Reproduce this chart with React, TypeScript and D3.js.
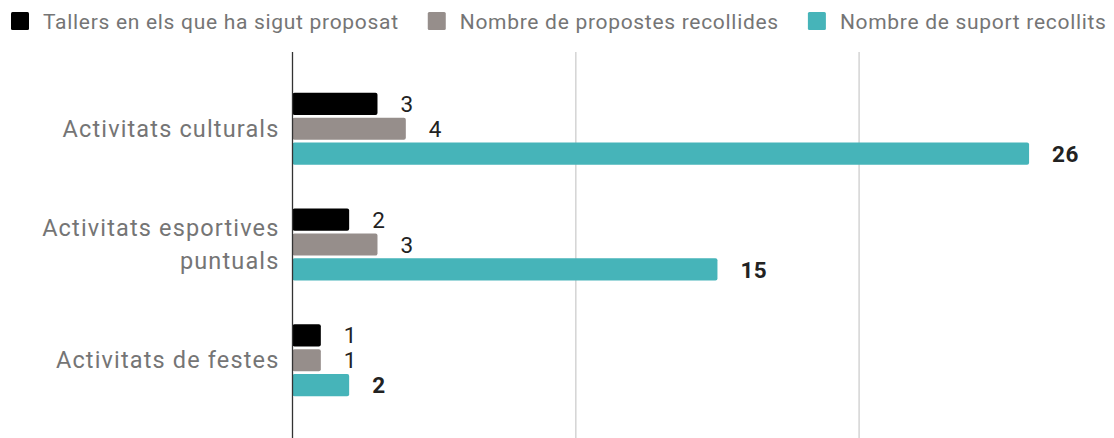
import React, { useEffect, useRef } from "react";
import * as d3 from "d3";

const categories = ["Activitats culturals", "Activitats esportives puntuals", "Activitats de festes"];
const categoryLines = [["Activitats culturals"], ["Activitats esportives", "puntuals"], ["Activitats de festes"]];
const seriesNames = ["Tallers en els que ha sigut proposat", "Nombre de propostes recollides", "Nombre de suport recollits"];
const seriesColors = ["#000000", "#968e8b", "#46b4b9"];
const tallers = [3, 2, 1];
const propostes = [4, 3, 1];
const suport = [26, 15, 2];
const xTicks = [10, 20, 30];

const W = 1114;
const H = 438;
const FONT = "Roboto, 'Noto Sans', sans-serif";

export default function App() {
  const ref = useRef<SVGSVGElement>(null);

  useEffect(() => {
    const svg = d3.select(ref.current);
    svg.selectAll("*").remove();

    const series = [tallers, propostes, suport];
    const left = 292.5;
    const top = 52;
    const bottom = 437;

    const x = d3.scaleLinear().domain([0, 30]).range([left, left + 30 * 28.33]);
    const y0 = d3.scaleBand<string>().domain(categories).range([top, bottom]).paddingInner(0.378).paddingOuter(0.352);
    const y1 = d3.scaleBand<number>().domain([0, 1, 2]).range([0, y0.bandwidth()]).paddingInner(0.11);

    // gridlines
    svg.append("g").selectAll("line").data(xTicks).join("line")
      .attr("x1", (d) => x(d)).attr("x2", (d) => x(d))
      .attr("y1", top).attr("y2", H)
      .attr("stroke", "#d4d4d4").attr("stroke-width", 1.5);

    // bars
    categories.forEach((c, ci) => {
      const g = svg.append("g").attr("transform", `translate(0,${y0(c)})`);
      series.forEach((vals, si) => {
        const v = vals[ci];
        g.append("rect")
          .attr("x", x(0))
          .attr("y", y1(si)!)
          .attr("width", x(v) - x(0))
          .attr("height", y1.bandwidth())
          .attr("rx", 2)
          .attr("fill", seriesColors[si]);
        g.append("text")
          .attr("x", x(v) + 23)
          .attr("y", y1(si)! + y1.bandwidth() / 2)
          .attr("dy", "0.36em")
          .attr("font-family", FONT)
          .attr("font-size", 22.5)
          .attr("letter-spacing", 0.5)
          .attr("font-weight", si === 2 ? 700 : 400)
          .attr("fill", "#222222")
          .text(v);
      });
    });

    // axis line
    svg.append("line")
      .attr("x1", x(0)).attr("x2", x(0))
      .attr("y1", top).attr("y2", H)
      .attr("stroke", "#333333").attr("stroke-width", 1.3);

    // category labels
    categories.forEach((c, ci) => {
      const lines = categoryLines[ci];
      const lh = 33;
      const cy = y0(c)! + y0.bandwidth() / 2;
      const t = svg.append("text")
        .attr("text-anchor", "end")
        .attr("font-family", FONT)
        .attr("font-size", 23.5)
        .attr("letter-spacing", 1.15)
        .attr("fill", "#757575");
      lines.forEach((ln, li) => {
        t.append("tspan")
          .attr("x", x(0) - 13)
          .attr("y", cy + (li - (lines.length - 1) / 2) * lh)
          .attr("dy", "0.35em")
          .text(ln);
      });
    });

    // legend
    let lx = 11;
    seriesNames.forEach((name, i) => {
      svg.append("rect")
        .attr("x", lx).attr("y", 12)
        .attr("width", 18).attr("height", 18)
        .attr("rx", 1.5)
        .attr("fill", seriesColors[i]);
      const t = svg.append("text")
        .attr("x", lx + 32).attr("y", 28.5)
        .attr("font-family", FONT)
        .attr("font-size", 21)
        .attr("letter-spacing", 0.7)
        .attr("fill", "#757575")
        .text(name);
      const w = (t.node() as SVGTextElement).getComputedTextLength();
      lx = lx + 32 + w + 29;
    });
  }, []);

  return (
    <svg
      ref={ref}
      width={W}
      height={H}
      style={{ position: "absolute", left: 0, top: 0, background: "#ffffff" }}
    />
  );
}
